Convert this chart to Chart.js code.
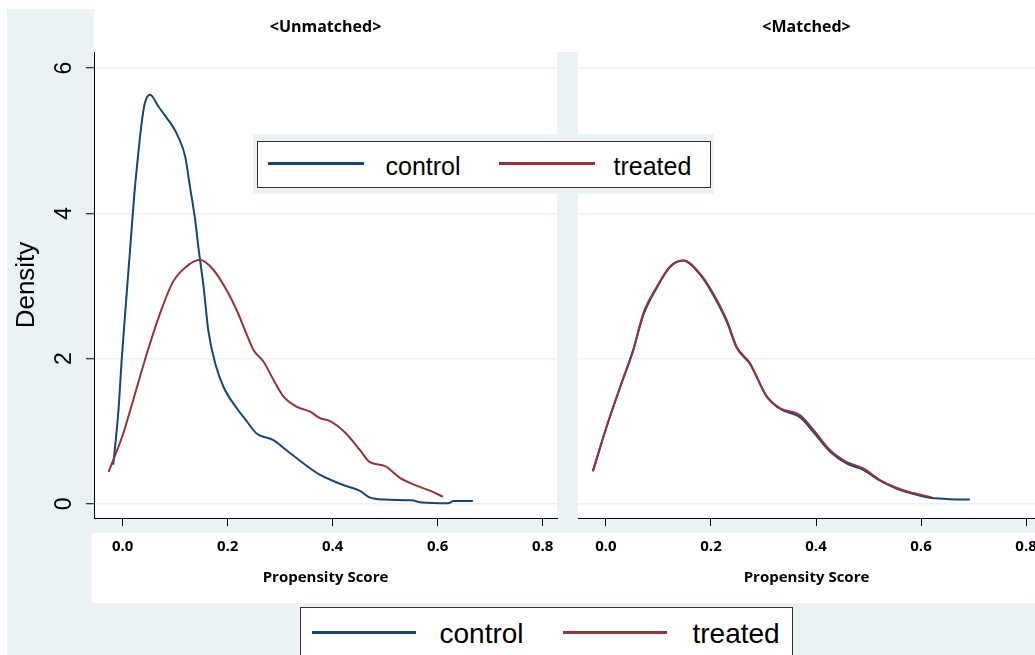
<!DOCTYPE html>
<html>
<head>
<meta charset="utf-8">
<script src="https://cdn.jsdelivr.net/npm/chart.js@4.4.0/dist/chart.umd.min.js"></script>
<style>
  html, body { margin: 0; padding: 0; width: 1035px; height: 655px; overflow: hidden; background: #fff; }
  .abs { position: absolute; }
  #frame { left: 7px; top: 9px; width: 1028px; height: 646px; background: #eaf2f3; }
  #titleStrip { left: 94px; top: 9px; width: 941px; height: 43px; background: #fff; }
  #labelStrip { left: 92px; top: 533px; width: 943px; height: 70px; background: #fff; }
  .legend { position: absolute; box-sizing: border-box; background: #fff; border: 1.5px solid #333;
            font-family: 'Liberation Sans', Arial, sans-serif; color: #000; }
  .legend .key { position: absolute; }
  .legend .lbl { position: absolute; white-space: nowrap; }
</style>
</head>
<body>
<div id="frame" class="abs"></div>
<div id="titleStrip" class="abs"></div>
<div id="labelStrip" class="abs"></div>
<canvas id="unmatched" class="abs" width="563" height="596" style="left:7px;top:9px"></canvas>
<canvas id="matched" class="abs" width="477" height="596" style="left:578px;top:9px"></canvas>
<div class="abs" style="left:253px;top:134px;width:461px;height:60px;background:#eaf2f3"></div>
<div id="legendTop" class="legend" style="left:257px;top:141px;width:454px;height:47px"></div>
<div id="legendBottom" class="legend" style="left:300px;top:607px;width:493px;height:60px"></div>

<script>
const seriesNames = ['control', 'treated'];
const seriesColors = ['#1a476f', '#90353b'];
const panelTitles = ['<Unmatched>', '<Matched>'];
const xTicks = [0, 0.2, 0.4, 0.6, 0.8];
const yTicks = [0, 2, 4, 6];

// unmatched panel
const unmatchedControlX = [-0.018, -0.008, -0.002, 0.006, 0.014, 0.022, 0.030, 0.036, 0.042, 0.052, 0.068, 0.084, 0.095,
  0.106, 0.119, 0.128, 0.138, 0.144, 0.154, 0.163, 0.176, 0.192, 0.217, 0.235, 0.255, 0.287, 0.312, 0.344,
  0.376, 0.400, 0.424, 0.452, 0.470, 0.500, 0.550, 0.570, 0.620, 0.630, 0.667];
const unmatchedControlY = [0.54, 1.30, 1.98, 2.75, 3.50, 4.25, 4.85, 5.24, 5.51, 5.63, 5.47, 5.31, 5.20,
  5.05, 4.78, 4.37, 3.91, 3.54, 2.99, 2.39, 1.94, 1.61, 1.32, 1.15, 0.97, 0.88, 0.74, 0.56,
  0.40, 0.32, 0.25, 0.18, 0.09, 0.06, 0.05, 0.02, 0.01, 0.04, 0.04];
const unmatchedTreatedX = [-0.027, 0.001, 0.020, 0.046, 0.071, 0.096, 0.122, 0.147, 0.173, 0.198, 0.217, 0.233,
  0.249, 0.268, 0.287, 0.306, 0.331, 0.357, 0.376, 0.395, 0.424, 0.452, 0.470, 0.500, 0.528, 0.557, 0.586, 0.610];
const unmatchedTreatedY = [0.44, 0.97, 1.43, 2.07, 2.62, 3.06, 3.27, 3.36, 3.22, 2.94, 2.67, 2.39,
  2.12, 1.96, 1.71, 1.48, 1.34, 1.27, 1.18, 1.14, 0.98, 0.74, 0.58, 0.52, 0.36, 0.26, 0.18, 0.10];

// matched panel
const matchedControlX = [-0.025, 0.001, 0.027, 0.052, 0.071, 0.097, 0.122, 0.147, 0.179, 0.204, 0.230, 0.249,
  0.274, 0.306, 0.331, 0.370, 0.395, 0.427, 0.458, 0.490, 0.522, 0.554, 0.585, 0.614, 0.649, 0.693];
const matchedControlY = [0.45, 1.06, 1.61, 2.12, 2.60, 2.98, 3.26, 3.35, 3.16, 2.88, 2.51, 2.15,
  1.93, 1.48, 1.31, 1.19, 0.99, 0.72, 0.56, 0.47, 0.32, 0.21, 0.14, 0.09, 0.07, 0.06];
const matchedTreatedX = [-0.025, 0.001, 0.027, 0.052, 0.071, 0.097, 0.122, 0.147, 0.179, 0.204, 0.230, 0.249,
  0.274, 0.306, 0.331, 0.370, 0.395, 0.427, 0.458, 0.490, 0.522, 0.554, 0.585, 0.620];
const matchedTreatedY = [0.45, 1.06, 1.61, 2.12, 2.62, 2.99, 3.27, 3.35, 3.17, 2.90, 2.53, 2.16,
  1.94, 1.48, 1.32, 1.22, 1.02, 0.74, 0.58, 0.49, 0.33, 0.22, 0.15, 0.09];

const pts = (xs, ys) => xs.map((x, i) => ({ x: x, y: ys[i] }));

// white plot region behind the curves
const plotBg = {
  id: 'plotBg',
  beforeDraw(chart) {
    const { ctx, chartArea: a } = chart;
    ctx.save();
    ctx.fillStyle = '#fff';
    ctx.fillRect(a.left, a.top, a.right - a.left, a.bottom - a.top);
    ctx.restore();
  }
};

const boldFont = size => ({ family: "'Open Sans', sans-serif", weight: 'bold', size: size });

function makePanel(id, title, control, treated, xRange, showY, padRight) {
  const ds = [
    { label: seriesNames[0], data: control, borderColor: seriesColors[0], order: 1 },
    { label: seriesNames[1], data: treated, borderColor: seriesColors[1], order: 0 }
  ].map(d => Object.assign(d, { borderWidth: 2, pointRadius: 0, fill: false, cubicInterpolationMode: 'monotone' }));

  return new Chart(document.getElementById(id), {
    type: 'line',
    data: { datasets: ds },
    plugins: [plotBg],
    options: {
      responsive: false,
      devicePixelRatio: 1,
      animation: false,
      layout: { padding: { left: 0, right: padRight, top: 0, bottom: 0 } },
      plugins: {
        legend: { display: false },
        tooltip: { enabled: false },
        title: {
          display: true, text: title, fullSize: false, color: '#000',
          font: boldFont(16), padding: { top: 8.4, bottom: 15.4 }
        }
      },
      scales: {
        x: {
          type: 'linear', min: xRange[0], max: xRange[1],
          afterBuildTicks: s => { s.ticks = xTicks.map(v => ({ value: v })); },
          afterFit: s => { s.height = 87; },
          ticks: { callback: v => v.toFixed(1), color: '#000', font: boldFont(15), padding: 12, maxRotation: 0, autoSkip: false },
          grid: { drawOnChartArea: false, drawTicks: true, tickLength: 8, tickColor: '#000', tickWidth: 1 },
          border: { color: '#000', width: 1 },
          title: { display: true, text: 'Propensity Score', color: '#000', font: boldFont(15), padding: { top: 0, bottom: 18 } }
        },
        y: {
          type: 'linear', min: -0.193, max: 6.22,
          afterBuildTicks: s => { s.ticks = yTicks.map(v => ({ value: v })); },
          afterFit: s => { s.width = showY ? 87 : 0; },
          ticks: {
            display: showY, color: '#000', font: { family: "'Liberation Sans', Arial, sans-serif", size: 23 },
            minRotation: 90, maxRotation: 90, crossAlign: 'center', padding: 15
          },
          grid: { color: '#eaf2f3', lineWidth: 1.5, drawTicks: showY, tickLength: 8, tickColor: '#000', tickWidth: 1 },
          border: { display: showY, color: '#000', width: 1 },
          title: {
            display: showY, text: 'Density', color: '#000',
            font: { family: "'Liberation Sans', Arial, sans-serif", size: 26 }, padding: { top: 4.4, bottom: 0 }
          }
        }
      }
    }
  });
}

makePanel('unmatched', panelTitles[0], pts(unmatchedControlX, unmatchedControlY),
  pts(unmatchedTreatedX, unmatchedTreatedY), [-0.0547, 0.8272], true, 13);
makePanel('matched', panelTitles[1], pts(matchedControlX, matchedControlY),
  pts(matchedTreatedX, matchedTreatedY), [-0.0533, 0.8171], false, 20);

// legends (one inside the left panel, one under the graph)
function buildLegend(el, fontSize, keyTop, keyH, keyLefts, keyW, textLefts, textTop) {
  seriesNames.forEach((name, i) => {
    const key = document.createElement('div');
    key.className = 'key';
    key.style.cssText = `left:${keyLefts[i]}px;top:${keyTop}px;width:${keyW}px;height:${keyH}px;background:${seriesColors[i]}`;
    const lbl = document.createElement('div');
    lbl.className = 'lbl';
    lbl.textContent = name;
    lbl.style.cssText = `left:${textLefts[i]}px;top:${textTop}px;font-size:${fontSize}px;line-height:${fontSize}px`;
    el.appendChild(key);
    el.appendChild(lbl);
  });
}
buildLegend(document.getElementById('legendTop'), 25, 20.3, 2.5, [9.5, 240.5], 96, [127.5, 355.5], 12);
buildLegend(document.getElementById('legendBottom'), 28, 22.7, 3.5, [10.5, 261.5], 104, [138.5, 391.5], 12);
</script>
</body>
</html>
